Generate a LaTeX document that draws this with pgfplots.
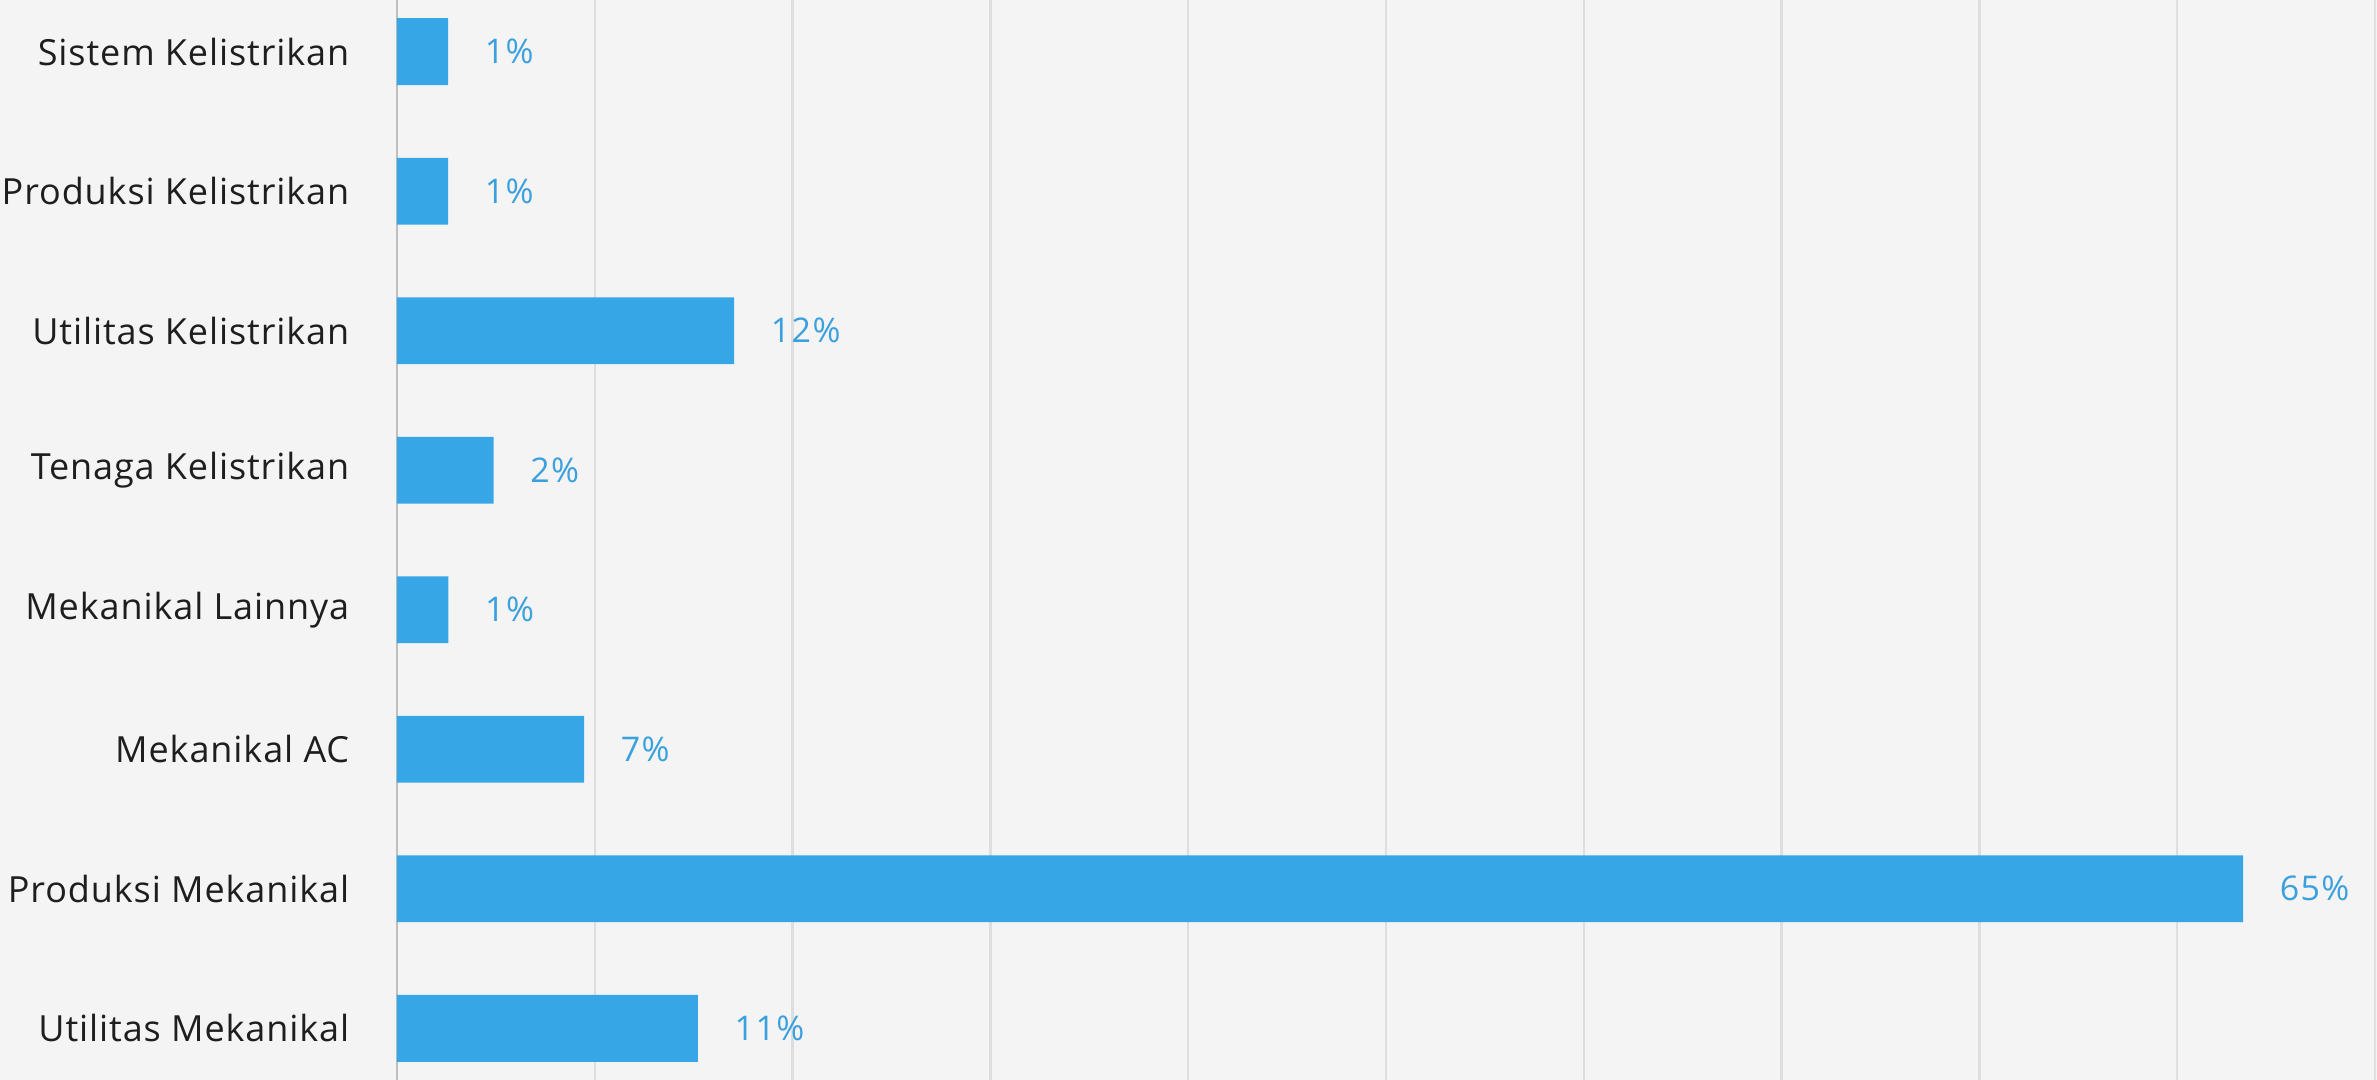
\documentclass[border=0pt]{standalone}
\usepackage{pgfplots}
\pgfplotsset{compat=1.18}
\usepackage{pgfplotstable}
\usepackage{fontspec}
\setmainfont{Open Sans}
\newfontfamily\tickfont[LetterSpace=2.5]{Open Sans}
\newfontfamily\valfont[LetterSpace=4]{Open Sans}
\definecolor{bg}{RGB}{244,244,244}
\definecolor{barblue}{RGB}{54,166,230}
\definecolor{lblblue}{RGB}{58,160,222}
\definecolor{gridgray}{RGB}{222,222,222}
\definecolor{axisgray}{RGB}{190,190,190}
\definecolor{txt}{RGB}{30,30,30}
% idx: category (0 = top), len: drawn bar length, lbl: printed percentage
\pgfplotstableread{
idx len lbl
0 1.81 1
1 1.81 1
2 11.93 12
3 3.42 2
4 1.82 1
5 6.62 7
6 65.33 65
7 10.65 11
}\datatable
\begin{document}
\begin{tikzpicture}[x=1pt,y=1pt]
\path[use as bounding box, fill=bg] (-99.25,0) rectangle (495,270);
\begin{axis}[
  at={(0,0)}, anchor=south west, scale only axis,
  width=494.5pt, height=270pt,
  xbar, bar width=16.7pt,
  xmin=0, xmax=70, ymin=-0.37, ymax=7.37, y dir=reverse,
  xtick={7,14,...,70}, xticklabels={},
  xmajorgrids, grid style={gridgray, line width=0.6pt},
  extra x ticks={0}, extra x tick labels={},
  extra x tick style={grid style={axisgray, line width=0.6pt}},
  ytick={0,...,7},
  yticklabels={Sistem Kelistrikan, Produksi Kelistrikan, Utilitas Kelistrikan, Tenaga Kelistrikan, Mekanikal Lainnya, Mekanikal AC, Produksi Mekanikal, Utilitas Mekanikal},
  major tick length=0pt,
  axis line style={draw=none},
  yticklabel style={font=\tickfont\fontsize{9}{10}\selectfont, text=txt, inner sep=0pt, xshift=-11.75pt},
  point meta=explicit symbolic,
  nodes near coords={\pgfplotspointmeta\%},
  nodes near coords style={font=\valfont\fontsize{8.5}{10}\selectfont, text=lblblue, anchor=west, inner sep=0pt, xshift=9pt},
]
\addplot[fill=barblue, draw=none] table[x=len, y=idx, meta=lbl] {\datatable};
\end{axis}
\end{tikzpicture}
\end{document}
